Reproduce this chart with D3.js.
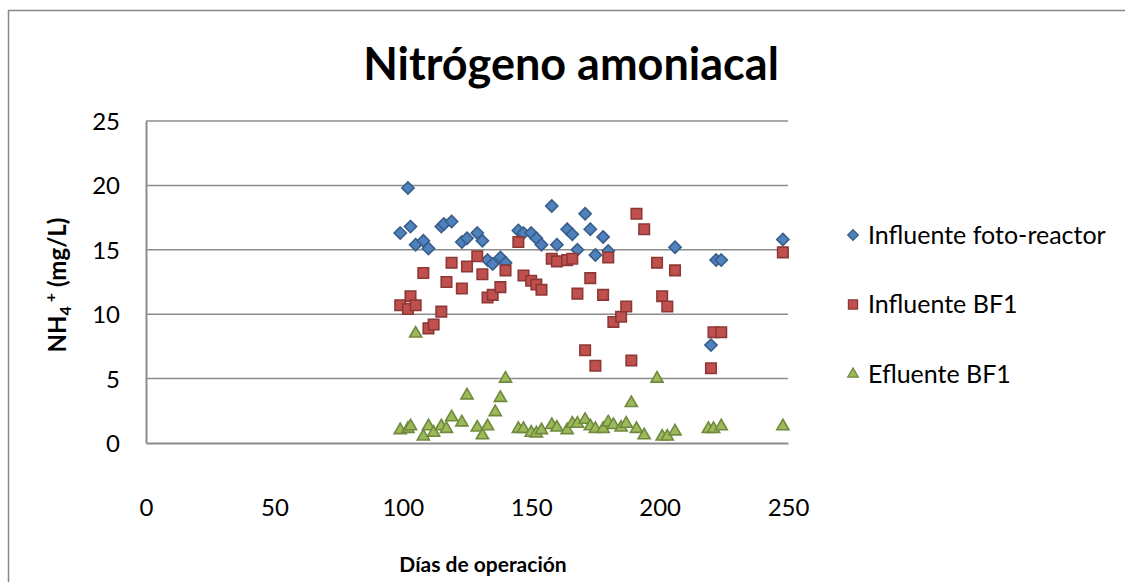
<!DOCTYPE html>
<meta charset="utf-8">
<script src="https://d3js.org/d3.v7.min.js"></script>
<style>
body { margin: 0; background: #fff; }
text { font-family: Lato, "Open Sans", sans-serif; fill: #000; }
</style>
<body>
<script>

// Data: [day, NH4+ mg/L]
var fotoReactor = [[99,16.3],[102,19.8],[103,16.8],[105,15.4],[108,15.7],[110,15.1],[115,16.8],[116,17.0],[119,17.2],
  [123,15.6],[125,15.9],[129,16.3],[131,15.7],[133,14.2],[135,13.9],[138,14.4],[140,14.0],[145,16.5],[147,16.3],
  [150,16.3],[152,15.9],[154,15.4],[158,18.4],[160,15.4],[164,16.6],[166,16.2],[168,15.0],[171,17.8],[173,16.6],
  [175,14.6],[178,16.0],[180,14.9],[206,15.2],[220,7.6],[222,14.2],[224,14.2],[248,15.8]];

var influenteBF1 = [[99,10.7],[102,10.4],[103,11.4],[105,10.7],[108,13.2],[110,8.9],[112,9.2],[115,10.2],[117,12.5],
  [119,14.0],[123,12.0],[125,13.7],[129,14.5],[131,13.1],[133,11.3],[135,11.5],[138,12.1],[140,13.4],[145,15.6],
  [147,13.0],[150,12.6],[152,12.3],[154,11.9],[158,14.3],[160,14.1],[164,14.2],[166,14.3],[168,11.6],[171,7.2],
  [173,12.8],[175,6.0],[178,11.5],[180,14.4],[182,9.4],[185,9.8],[187,10.6],[189,6.4],[191,17.8],[194,16.6],
  [199,14.0],[201,11.4],[203,10.6],[206,13.4],[220,5.8],[221,8.6],[224,8.6],[248,14.8]];

var efluenteBF1 = [[99,1.0],[102,1.1],[103,1.3],[105,8.5],[108,0.5],[110,1.3],[112,0.8],[115,1.3],[117,1.1],[119,2.0],
  [123,1.6],[125,3.7],[129,1.2],[131,0.6],[133,1.3],[136,2.4],[138,3.5],[140,5.0],[145,1.1],[147,1.1],[150,0.8],
  [152,0.75],[154,1.0],[158,1.4],[160,1.2],[164,1.0],[166,1.5],[168,1.5],[171,1.8],[173,1.3],[175,1.1],[178,1.1],
  [180,1.6],[182,1.4],[185,1.2],[187,1.5],[189,3.1],[191,1.1],[194,0.6],[199,5.0],[201,0.5],[203,0.5],[206,0.9],
  [219,1.1],[221,1.1],[224,1.3],[248,1.3]];

var xTicks = [0, 50, 100, 150, 200, 250];
var yTicks = [0, 5, 10, 15, 20, 25];

var series = [
  {name: "Influente foto-reactor", data: fotoReactor, symbol: d3.symbolDiamond2, size: 95, fill: "#4F81BD", stroke: "#385D8A"},
  {name: "Influente BF1", data: influenteBF1, symbol: d3.symbolSquare2, size: 140, fill: "#C0504D", stroke: "#8C3836"},
  {name: "Efluente BF1", data: efluenteBF1, symbol: d3.symbolTriangle2, size: 105, fill: "#9BBB59", stroke: "#71893F"}
];

var width = 1125, height = 582;
var margin = {top: 121, left: 146, right: 337, bottom: 139};

var svg = d3.select("body").append("svg")
    .attr("width", width)
    .attr("height", height);

// chart border
svg.append("rect")
    .attr("x", 8.5).attr("y", 10.5)
    .attr("width", 1130).attr("height", 600)
    .attr("fill", "none")
    .attr("stroke", "#868686")
    .attr("stroke-width", 1.5);

var x = d3.scaleLinear().domain([0, 250]).range([margin.left, width - margin.right]);
var y = d3.scaleLinear().domain([0, 25]).range([height - margin.bottom, margin.top]);

// gridlines
svg.selectAll(".grid")
    .data(yTicks.slice(1))
    .enter().append("line")
    .attr("x1", x(0)).attr("x2", x(250))
    .attr("y1", function(d) { return y(d); })
    .attr("y2", function(d) { return y(d); })
    .attr("stroke", "#8c8c8c")
    .attr("stroke-width", 1.5);

// axes
var xAxis = svg.append("g")
    .attr("transform", "translate(0," + y(0) + ")")
    .call(d3.axisBottom(x).tickValues(xTicks).tickSize(0).tickPadding(56));
var yAxis = svg.append("g")
    .attr("transform", "translate(" + x(0) + ",0)")
    .call(d3.axisLeft(y).tickValues(yTicks).tickSize(0).tickPadding(26));

[xAxis, yAxis].forEach(function(a) {
  a.select(".domain").attr("stroke", "#8c8c8c").attr("stroke-width", 2);
  a.selectAll("text").attr("font-size", "24px").attr("font-family", "Lato, sans-serif").attr("fill", "#000");
});
yAxis.selectAll("text").attr("dy", "0.35em");

// points
series.forEach(function(s) {
  svg.append("g").selectAll("path")
      .data(s.data)
      .enter().append("path")
      .attr("transform", function(d) { return "translate(" + x(d[0]) + "," + y(d[1]) + ")"; })
      .attr("d", d3.symbol().type(s.symbol).size(s.size))
      .attr("fill", s.fill)
      .attr("stroke", s.stroke)
      .attr("stroke-width", 1.6);
});

// title
svg.append("text")
    .attr("x", 571).attr("y", 80)
    .attr("text-anchor", "middle")
    .attr("font-size", "45px")
    .attr("font-weight", "bold")
    .text("Nitrógeno amoniacal");

// x axis title
svg.append("text")
    .attr("x", 483).attr("y", 572)
    .attr("text-anchor", "middle")
    .attr("font-size", "21px")
    .attr("font-weight", "bold")
    .text("Días de operación");

// y axis title
var yt = svg.append("text")
    .attr("transform", "translate(66,285) rotate(-90)")
    .attr("text-anchor", "middle")
    .attr("font-size", "24px")
    .attr("font-weight", "bold");
yt.append("tspan").text("NH");
yt.append("tspan").attr("font-size", "16px").attr("dy", 5).text("4");
yt.append("tspan").attr("font-size", "16px").attr("dy", -15).text(" +");
yt.append("tspan").attr("dy", 10).text(" (mg/L)");

// legend
var legend = svg.selectAll(".legend")
    .data(series)
    .enter().append("g")
    .attr("class", "legend")
    .attr("transform", function(d, i) { return "translate(853," + (235 + i * 69.5) + ")"; });
legend.append("path")
    .attr("d", function(d) { return d3.symbol().type(d.symbol).size(d.size * 0.75)(); })
    .attr("fill", function(d) { return d.fill; })
    .attr("stroke", function(d) { return d.stroke; })
    .attr("stroke-width", 1.3);
legend.append("text")
    .attr("x", 15)
    .attr("dy", "0.35em")
    .attr("font-size", "25px")
    .text(function(d) { return d.name; });

</script>
</body>
</html>
